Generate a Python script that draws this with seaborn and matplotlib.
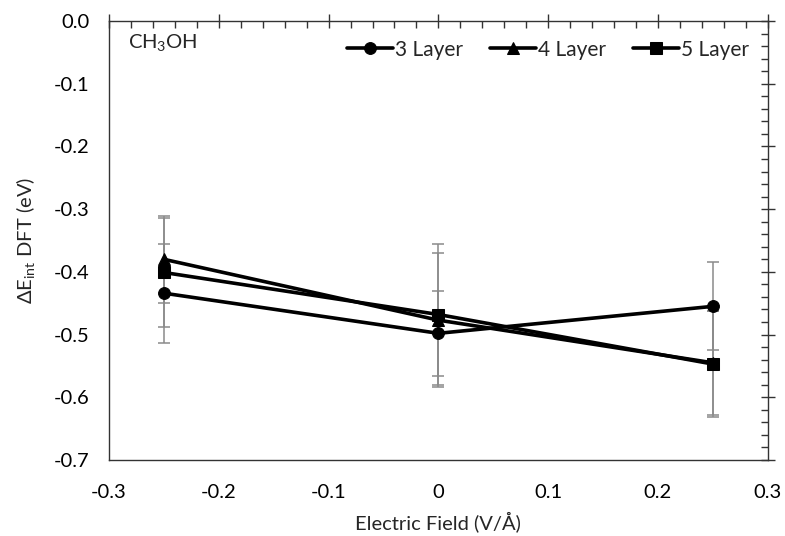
import matplotlib
matplotlib.use("Agg")
import matplotlib.pyplot as plt
import seaborn as sns
import pandas as pd
import numpy as np
from matplotlib.ticker import MultipleLocator, FormatStrFormatter

# ---- data ----
field = [-0.25, 0.0, 0.25]
layers = ["3 Layer", "4 Layer", "5 Layer"]
e3 = [-0.434, -0.498, -0.455]
e4 = [-0.380, -0.477, -0.545]
e5 = [-0.401, -0.468, -0.547]
err3 = [0.079, 0.068, 0.070]
err4 = [0.069, 0.107, 0.083]
err5 = [0.087, 0.113, 0.085]
markers = {"3 Layer": "o", "4 Layer": "^", "5 Layer": "s"}

df = pd.DataFrame({
    "Field": field * 3,
    "E": e3 + e4 + e5,
    "err": err3 + err4 + err5,
    "Layer": [l for l in layers for _ in field],
})

sns.set_style("white")
plt.rcParams["font.family"] = ["Lato", "DejaVu Sans"]
plt.rcParams["mathtext.fontset"] = "custom"
plt.rcParams["mathtext.rm"] = "Lato"
plt.rcParams["mathtext.it"] = "Lato"

fig = plt.figure(figsize=(7.85, 5.36), dpi=100)
ax = fig.add_axes([0.1389, 0.1418, 0.8391, 0.819])

# error bars (grey)
for lay in layers:
    sub = df[df["Layer"] == lay]
    ax.errorbar(sub["Field"], sub["E"], yerr=sub["err"], fmt="none",
                ecolor="#8a8a8a", elinewidth=1.1, capsize=4.5, capthick=1.1, zorder=2)

sns.lineplot(data=df, x="Field", y="E", style="Layer", markers=markers,
             dashes=False, color="black", linewidth=2.6, markersize=8.5,
             markeredgecolor="black", ax=ax, zorder=3, legend=True)

ax.set_xlim(-0.3, 0.3)
ax.set_ylim(-0.7, 0.0)
ax.xaxis.set_major_locator(MultipleLocator(0.1))
ax.xaxis.set_minor_locator(MultipleLocator(0.02))
ax.yaxis.set_major_locator(MultipleLocator(0.1))
ax.yaxis.set_minor_locator(MultipleLocator(0.02))
ax.yaxis.set_major_formatter(FormatStrFormatter("%.1f"))

def xfmt(v, pos):
    if abs(v) < 1e-9:
        return "0"
    return f"{v:.1f}"
ax.xaxis.set_major_formatter(matplotlib.ticker.FuncFormatter(xfmt))

ax.tick_params(which="major", direction="inout", length=10, width=1, color="#333333",
               top=True, right=True, labelsize=14.5, labelcolor="black")
ax.tick_params(which="minor", direction="in", length=5, width=1, color="#333333",
               top=True, right=True)
ax.tick_params(axis="x", which="major", pad=12)
ax.tick_params(axis="y", which="major", pad=9)

for s in ax.spines.values():
    s.set_color("#333333")
    s.set_linewidth(1.0)
    s.set_visible(True)

ax.set_xlabel("Electric Field (V/Å)", fontsize=14.5, labelpad=8)
ax.set_ylabel(r"$\Delta$E$_{\mathrm{int}}$ DFT (eV)", fontsize=14.5, labelpad=12)

ax.text(-0.283, -0.035, r"CH$_3$OH", fontsize=14.5, ha="left", va="center")

leg = ax.legend(loc="upper right", ncol=3, frameon=False, fontsize=15,
                handlelength=2.2, columnspacing=1.3, handletextpad=0.1,
                bbox_to_anchor=(1.0, 1.0), borderaxespad=0.5)
leg.set_title(None)

fig.savefig("out.png", dpi=100)
